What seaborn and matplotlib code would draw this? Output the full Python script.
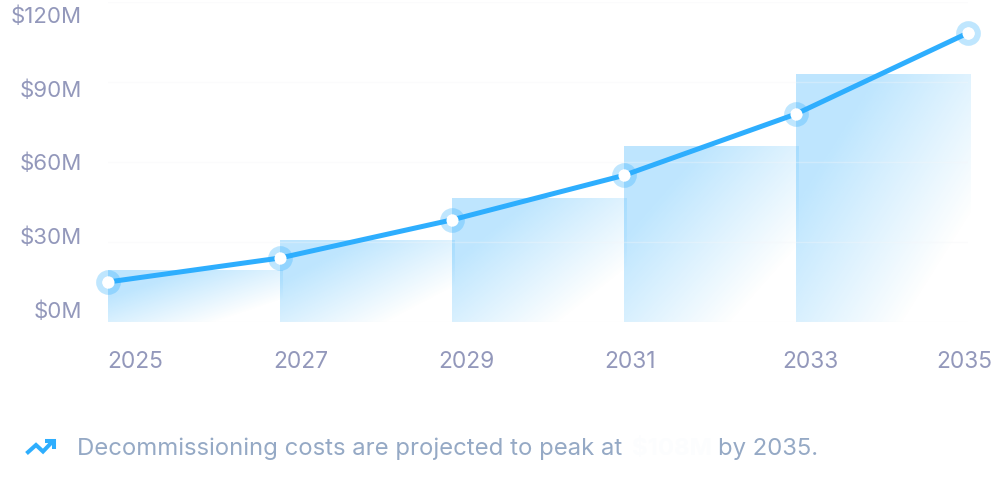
import numpy as np
import pandas as pd
import matplotlib
matplotlib.use("Agg")
import matplotlib.pyplot as plt
from matplotlib.lines import Line2D
import seaborn as sns

# Values
line_years = [2025, 2027, 2029, 2031, 2033, 2035]
line_costs = [15, 24, 38.3, 55, 78, 108.4]
bar_years = [2025, 2027, 2029, 2031, 2033]
bar_costs = [19.5, 30.75, 46.5, 66, 93]
y_ticks = [0, 30, 60, 90, 120]
y_labels = ["$0M", "$30M", "$60M", "$90M", "$120M"]
x_labels = ["2025", "2027", "2029", "2031", "2033", "2035"]

W, H = 992, 486
BLUE = "#2eaefe"
RGB = (46 / 255, 174 / 255, 254 / 255)
LABEL = "#9398bb"
NOTE = "#95a9c5"

sns.set_theme(style="white")
plt.rcParams["font.family"] = ["Inter", "DejaVu Sans"]


def fx(px):
    return px / W


def fy(px):
    return 1 - px / H


fig = plt.figure(figsize=(W / 100, H / 100), dpi=100, facecolor="white")
ax = fig.add_axes([fx(108), fy(322), 860 / W, 320 / H])
ax.patch.set_alpha(0)

# Bars, each one filled with a diagonal fade
bar_w = 174 / 172
df_bars = pd.DataFrame({"center": [y + bar_w for y in bar_years], "cost": bar_costs})
sns.barplot(data=df_bars, x="center", y="cost", native_scale=True, width=bar_w, ax=ax,
            color=BLUE, edgecolor="none")

ny, nx = 200, 200
v, u = np.mgrid[0:1:ny * 1j, 0:1:nx * 1j]
t = 0.53 * u + 0.47 * v
fade = np.clip((0.8 - t) / (0.8 - 0.25), 0, 1)
rgba = np.zeros((ny, nx, 4))
rgba[..., :3] = RGB
rgba[..., 3] = 0.31 * fade

for bar in list(ax.patches):
    x0, w, h = bar.get_x(), bar.get_width(), bar.get_height()
    bar.set_facecolor("none")
    im = ax.imshow(rgba, extent=[x0, x0 + w, 0, h], aspect="auto", origin="upper",
                   interpolation="bilinear", zorder=2)
    im.set_clip_path(bar)

# Line with ring markers
sns.lineplot(x=line_years, y=line_costs, ax=ax, color=BLUE, linewidth=3.6, marker="o",
             markersize=13.4, markeredgewidth=4.4, fillstyle="none",
             markeredgecolor=RGB + (0.3,), clip_on=False, zorder=4,
             solid_capstyle="round", errorbar=None)
sns.scatterplot(x=line_years, y=line_costs, ax=ax, s=75, color="white", linewidth=0,
                clip_on=False, zorder=5)

ax.set_xlim(2025, 2035)
ax.set_ylim(0, 120)
ax.set_yticks(y_ticks)
ax.set_yticklabels([])
ax.set_xticks([])
ax.set_xlabel("")
ax.set_ylabel("")
ax.grid(axis="y", color="#f4f6f9", linewidth=1, alpha=0.35, zorder=3)
ax.set_axisbelow(False)
sns.despine(ax=ax, left=True, bottom=True)
ax.tick_params(length=0)

# The labels sit on their own spacing, not on the scale
for lab, py in zip(y_labels, [310, 236, 162, 89, 15]):
    fig.text(fx(82), fy(py), lab, ha="right", va="center_baseline", fontsize=16, color=LABEL)
for lab, px in zip(x_labels, [135, 301, 466, 630, 810, 964]):
    fig.text(fx(px), fy(360), lab, ha="center", va="center_baseline", fontsize=16.4, color=LABEL)

# Note under the chart
fig.text(fx(77), fy(446.5), "Decommissioning costs are projected to peak at", ha="left",
         va="center_baseline", fontsize=17.2, color=NOTE)
fig.text(fx(632), fy(446.5), "$108M", ha="left", va="center_baseline", fontsize=17.2,
         color="#fcfdfe", fontweight="bold")
fig.text(fx(718), fy(446.5), "by 2035.", ha="left", va="center_baseline", fontsize=17.2, color=NOTE)

# Trend icon
trend_x = [26.5, 36, 43, 53]
trend_y = [453.5, 445, 451.5, 441]
head_x = [45, 54, 54]
head_y = [440.5, 440.5, 449]
for xs, ys in [(trend_x, trend_y), (head_x, head_y)]:
    fig.add_artist(Line2D([fx(p) for p in xs], [fy(p) for p in ys], color=BLUE, linewidth=2.9,
                          solid_joinstyle="miter", solid_capstyle="butt"))

fig.savefig("out.png", dpi=100)
